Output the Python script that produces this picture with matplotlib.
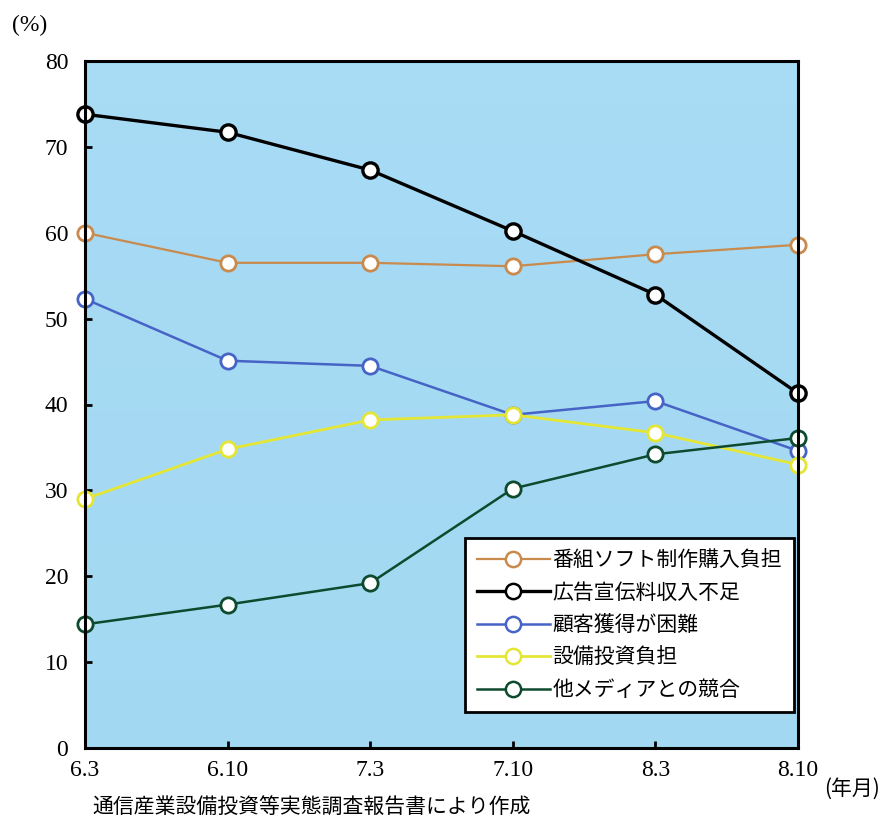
import matplotlib
matplotlib.use("Agg")
import matplotlib.pyplot as plt
import numpy as np
from matplotlib.lines import Line2D

plt.rcParams['font.family'] = ['Liberation Serif', 'Noto Sans CJK JP']

periods = ["6.3", "6.10", "7.3", "7.10", "8.3", "8.10"]
program_cost = [60.0, 56.5, 56.5, 56.1, 57.5, 58.6]
ad_revenue = [73.8, 71.7, 67.3, 60.2, 52.8, 41.3]
customers = [52.3, 45.1, 44.5, 38.8, 40.4, 34.6]
equipment = [29.0, 34.8, 38.2, 38.8, 36.7, 33.0]
competition = [14.4, 16.7, 19.2, 30.2, 34.2, 36.1]

series = [
    ("番組ソフト制作購入負担", program_cost, "#c98a4e", 1.6),
    ("広告宣伝料収入不足", ad_revenue, "#000000", 2.4),
    ("顧客獲得が困難", customers, "#4664c6", 1.8),
    ("設備投資負担", equipment, "#e4e636", 2.0),
    ("他メディアとの競合", competition, "#0d4a2e", 1.8),
]

fig = plt.figure(figsize=(8.81, 8.19), dpi=100)
ax = fig.add_axes([85 / 881, 71 / 819, 713 / 881, 687 / 819])

x = np.arange(len(periods))
ax.set_xlim(0, len(periods) - 1)
ax.set_ylim(0, 80)

# soft blue panel
grad = np.linspace(0, 1, 256).reshape(-1, 1)
c1 = np.array([0.64, 0.85, 0.95])
c2 = np.array([0.66, 0.86, 0.96])
img = c1 + (c2 - c1) * grad[..., None]
ax.imshow(img, extent=[0, len(periods) - 1, 0, 80], aspect='auto',
          origin='lower', zorder=0)

handles = []
for name, vals, color, lw in series:
    ax.plot(x, vals, color=color, lw=lw, marker='o', markersize=11,
            markerfacecolor='white', markeredgecolor=color,
            markeredgewidth=2.0 if color != "#000000" else 2.4,
            clip_on=False, zorder=3)
    handles.append(Line2D([], [], color=color, lw=lw, marker='o', markersize=11,
                          markerfacecolor='white', markeredgecolor=color,
                          markeredgewidth=1.8))

for s in ax.spines.values():
    s.set_linewidth(2.2)
    s.set_color('black')
    s.set_zorder(4)

ax.set_xticks(x)
ax.set_xticklabels(periods)
ax.set_yticks(np.arange(0, 81, 10))
ax.tick_params(axis='both', direction='in', length=5, width=2, labelsize=17,
               colors='black')
ax.tick_params(axis='x', pad=9)
ax.tick_params(axis='y', pad=12)

leg = ax.legend(handles, [s[0] for s in series], loc='lower right',
                bbox_to_anchor=(0.994, 0.052), frameon=True,
                fancybox=False, edgecolor='black', facecolor='white',
                framealpha=1, handlelength=3.5, handletextpad=0.15,
                labelspacing=0.5, borderpad=0.55, borderaxespad=0,
                prop={'family': ['Noto Sans CJK JP'], 'size': 15})
leg.get_frame().set_linewidth(2)
leg.set_zorder(5)

fig.text(12 / 881, 1 - 25 / 819, "(%)", fontsize=17, va='center', ha='left')
fig.text(880 / 881, 1 - 789 / 819, "(年月)", fontsize=15, va='center', ha='right',
         family=['Noto Sans CJK JP'])
fig.text(92 / 881, 1 - 808 / 819, "通信産業設備投資等実態調査報告書により作成",
         fontsize=15, va='center', ha='left', family=['Noto Sans CJK JP'])

fig.savefig("out.png", dpi=100)
